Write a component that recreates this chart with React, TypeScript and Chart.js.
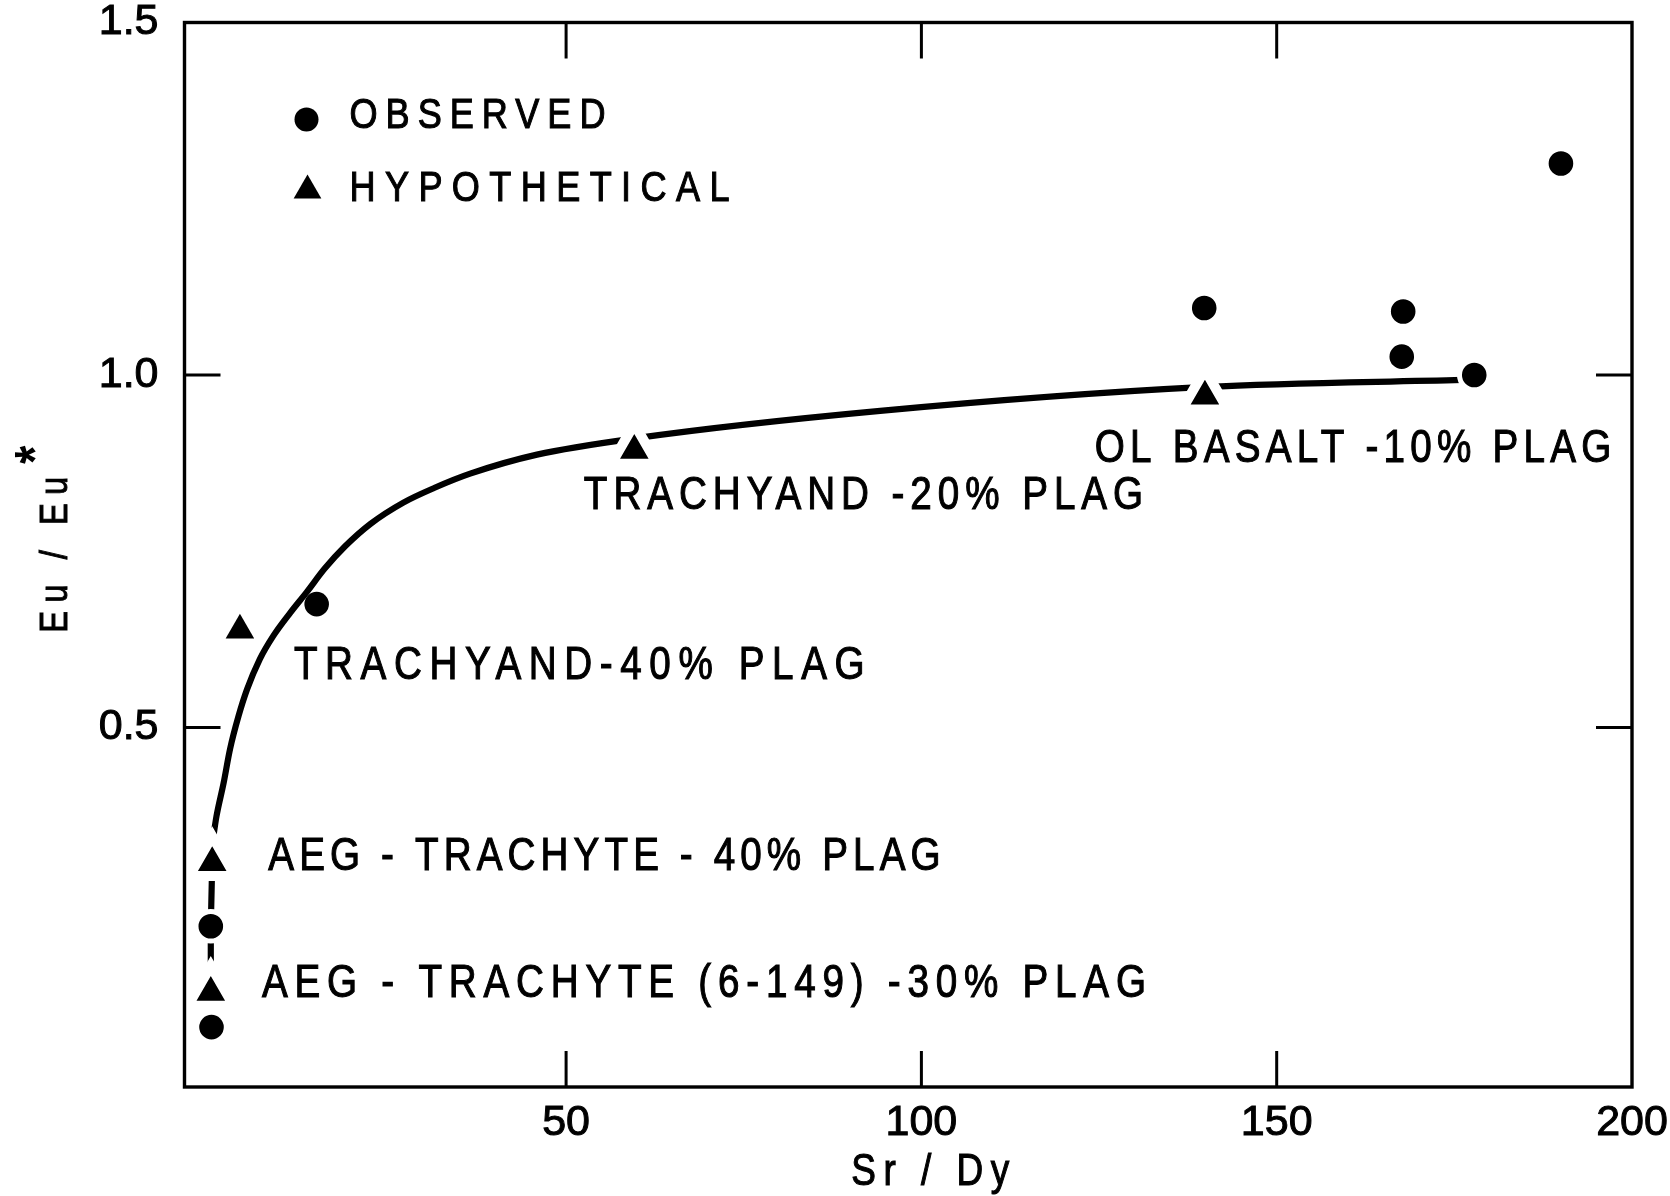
import React, { useEffect, useRef } from 'react';
import { Chart, registerables } from 'chart.js';

Chart.register(...registerables);

// Observed samples: Sr/Dy against Eu/Eu*
const observedSrDy = [190.0, 139.8, 167.8, 167.6, 177.8, 14.9, 0.0, 0.1];
const observedEuRatio = [1.3, 1.095, 1.09, 1.026, 1.0, 0.675, 0.218, 0.075];

// Hypothetical liquids after plagioclase removal
const hypotheticalSrDy = [139.9, 59.6, 4.1, 0.2, 0.0];
const hypotheticalEuRatio = [0.97, 0.893, 0.638, 0.308, 0.124];

// Smooth trend drawn through the model liquids
const trendSrDy = [0.37, 0.8, 1.8, 2.7, 3.9, 5.1, 6.9, 8.8, 11.2, 13.5, 16.0, 18.9, 22.5, 27.1, 31.5, 36.5, 45.9, 59.6, 94.2, 140.0, 176.1];
const trendEuRatio = [0.346, 0.374, 0.421, 0.469, 0.516, 0.554, 0.597, 0.63, 0.663, 0.692, 0.725, 0.757, 0.789, 0.819, 0.84, 0.86, 0.887, 0.91, 0.949, 0.983, 0.993];

// Short link between the aegirine-trachyte points
const linkSrDy = [0.2, 0.0, 0.0];
const linkEuRatio = [0.308, 0.218, 0.124];

// Axis ticks
const xTickValues = [50, 100, 150, 200];
const yTickValues = [0.5, 1.0, 1.5];

// Model labels (left edge, right edge, vertical centre in data units)
const noteTexts = [
  'TRACHYAND -20% PLAG',
  'OL BASALT -10% PLAG',
  'TRACHYAND-40% PLAG',
  'AEG - TRACHYTE - 40% PLAG',
  'AEG - TRACHYTE (6-149) -30% PLAG',
];
const noteStartSrDy = [52.5, 124.4, 11.7, 8.1, 7.2];
const noteEndSrDy = [131.2, 197.1, 92.0, 102.7, 131.6];
const noteEuRatio = [0.834, 0.9, 0.592, 0.321, 0.141];

const FONT = '"Liberation Sans", "DejaVu Sans", sans-serif';
const CAP = 0.72;
const INK = '#000';
const SQUEEZE = 0.84; // lettering is narrower than the installed sans

const toPoints = (xs: number[], ys: number[]) => xs.map((x, i) => ({ x, y: ys[i] }));

// markers beside the steep part of the trend touch it; the others get a white gap
const hasGap = (c: any) => !(c.raw && c.raw.x > 1 && c.raw.x < 30);

function drawSpaced(
  ctx: CanvasRenderingContext2D,
  text: string,
  x: number,
  yCenter: number,
  size: number,
  width: number
) {
  ctx.save();
  ctx.translate(x, yCenter + (CAP * size) / 2);
  ctx.scale(SQUEEZE, 1);
  ctx.font = `${size}px ${FONT}`;
  (ctx as any).letterSpacing = '0px';
  const w0 = ctx.measureText(text).width;
  const n = Array.from(text).length;
  const ls = n > 1 ? (width / SQUEEZE - w0) / (n - 1) : 0;
  (ctx as any).letterSpacing = `${ls}px`;
  ctx.fillStyle = INK;
  ctx.strokeStyle = INK;
  ctx.lineWidth = 1.1;
  ctx.textAlign = 'left';
  ctx.textBaseline = 'alphabetic';
  ctx.fillText(text, 0, 0);
  ctx.strokeText(text, 0, 0);
  ctx.restore();
}

function triangle(ctx: CanvasRenderingContext2D, cx: number, cy: number, r: number) {
  ctx.beginPath();
  for (let k = 0; k < 3; k++) {
    const a = (k * 2 * Math.PI) / 3;
    const px = cx + Math.sin(a) * r;
    const py = cy - Math.cos(a) * r;
    if (k === 0) ctx.moveTo(px, py);
    else ctx.lineTo(px, py);
  }
  ctx.closePath();
  ctx.fill();
}

const frameAndNotes = {
  id: 'frameAndNotes',
  afterDatasetsDraw(chart: any) {
    const { ctx, chartArea: a, scales } = chart;
    const xs = scales.x;
    const ys = scales.y;
    const tickLen = 36;
    ctx.save();
    ctx.strokeStyle = INK;
    ctx.lineWidth = 3.4;
    ctx.lineJoin = 'miter';
    ctx.strokeRect(a.left, a.top, a.right - a.left, a.bottom - a.top);
    ctx.lineWidth = 3;
    ctx.beginPath();
    xs.ticks.forEach((t: any) => {
      if (t.value <= xs.min || t.value >= xs.max) return;
      const px = xs.getPixelForValue(t.value);
      ctx.moveTo(px, a.bottom);
      ctx.lineTo(px, a.bottom - tickLen);
      ctx.moveTo(px, a.top);
      ctx.lineTo(px, a.top + tickLen);
    });
    ys.ticks.forEach((t: any) => {
      if (t.value <= ys.min || t.value >= ys.max) return;
      const py = ys.getPixelForValue(t.value);
      ctx.moveTo(a.left, py);
      ctx.lineTo(a.left + tickLen, py);
      ctx.moveTo(a.right, py);
      ctx.lineTo(a.right - tickLen, py);
    });
    ctx.stroke();
    ctx.restore();
  },
  afterDraw(chart: any) {
    const { ctx, chartArea: a, scales } = chart;
    const xs = scales.x;
    const ys = scales.y;

    // model labels
    noteTexts.forEach((text, i) => {
      const x0 = xs.getPixelForValue(noteStartSrDy[i]);
      const x1 = xs.getPixelForValue(noteEndSrDy[i]);
      const yc = ys.getPixelForValue(noteEuRatio[i]);
      drawSpaced(ctx, text, x0, yc, 46, x1 - x0);
    });

    // key
    ctx.save();
    ctx.fillStyle = INK;
    ctx.beginPath();
    ctx.arc(a.left + 122, a.top + 97, 12, 0, Math.PI * 2);
    ctx.fill();
    triangle(ctx, a.left + 123, a.top + 168, 16);
    ctx.restore();
    drawSpaced(ctx, chart.data.datasets[0].label, a.left + 165, a.top + 90.5, 43, 256);
    drawSpaced(ctx, chart.data.datasets[1].label, a.left + 165, a.top + 163, 43, 380);

    // x axis title
    const cx = (a.left + a.right) / 2 + 22;
    drawSpaced(ctx, 'Sr / Dy', cx - 79, chart.height - 27, 44, 158);

    // y axis title, rotated, with superscript asterisk
    ctx.save();
    const yMid = (a.top + a.bottom) / 2;
    ctx.translate(67, yMid + 78);
    ctx.rotate(-Math.PI / 2);
    ctx.scale(SQUEEZE, 1);
    ctx.fillStyle = INK;
    ctx.strokeStyle = INK;
    ctx.lineWidth = 1;
    ctx.font = `39px ${FONT}`;
    (ctx as any).letterSpacing = '0px';
    const label = 'Eu / Eu';
    const w0 = ctx.measureText(label).width;
    (ctx as any).letterSpacing = `${(156 / SQUEEZE - w0) / 6}px`;
    ctx.textAlign = 'left';
    ctx.textBaseline = 'alphabetic';
    ctx.fillText(label, 0, 0);
    ctx.strokeText(label, 0, 0);
    (ctx as any).letterSpacing = '0px';
    ctx.font = `bold 56px ${FONT}`;
    ctx.textAlign = 'center';
    ctx.fillText('*', 178 / SQUEEZE, -14);
    ctx.restore();
  },
};

export default function App() {
  const ref = useRef<HTMLCanvasElement>(null);

  useEffect(() => {
    const canvas = ref.current;
    if (!canvas) return;
    const tickFont = { family: FONT, size: 43 };

    const chart = new Chart(canvas, {
      type: 'scatter',
      data: {
        datasets: [
          {
            label: 'OBSERVED',
            data: toPoints(observedSrDy, observedEuRatio),
            pointStyle: 'circle',
            pointBackgroundColor: INK,
            pointBorderColor: '#fff',
            pointRadius: (c: any) => (hasGap(c) ? 14.8 : 12.3),
            pointBorderWidth: (c: any) => (hasGap(c) ? 5 : 0),
            order: 0,
          },
          {
            label: 'HYPOTHETICAL',
            data: toPoints(hypotheticalSrDy, hypotheticalEuRatio),
            pointStyle: 'triangle',
            pointBackgroundColor: INK,
            pointBorderColor: '#fff',
            pointRadius: (c: any) => (hasGap(c) ? 26.5 : 16.5),
            pointBorderWidth: (c: any) => (hasGap(c) ? 10 : 0),
            order: 1,
          },
          {
            label: 'link',
            data: toPoints(linkSrDy, linkEuRatio),
            showLine: true,
            borderColor: INK,
            borderWidth: 6.2,
            tension: 0,
            pointRadius: 0,
            borderCapStyle: 'butt',
            order: 2,
          },
          {
            label: 'trend',
            data: toPoints(trendSrDy, trendEuRatio),
            showLine: true,
            borderColor: INK,
            borderWidth: 6.2,
            cubicInterpolationMode: 'monotone',
            pointRadius: 0,
            borderCapStyle: 'round',
            order: 3,
          },
        ],
      } as any,
      options: {
        animation: false,
        responsive: false,
        events: [],
        layout: { autoPadding: false, padding: { top: 22.5, right: 38, left: 0, bottom: 0 } },
        plugins: {
          legend: { display: false },
          tooltip: { enabled: false },
        },
        scales: {
          x: {
            type: 'linear',
            min: -3.7,
            max: 200,
            border: { display: false },
            grid: { display: false },
            ticks: {
              font: tickFont,
              color: INK,
              textStrokeColor: INK,
              textStrokeWidth: 1,
              padding: 2,
              autoSkip: false,
              maxRotation: 0,
              callback: (v: any) => String(v),
            },
            afterBuildTicks: (s: any) => {
              s.ticks = xTickValues.map((value) => ({ value }));
            },
            afterFit: (s: any) => {
              s.height = 109;
              s.paddingLeft = 0;
              s.paddingRight = 0;
            },
          },
          y: {
            type: 'linear',
            min: -0.01,
            max: 1.5,
            border: { display: false },
            grid: { display: false },
            ticks: {
              font: tickFont,
              color: INK,
              textStrokeColor: INK,
              textStrokeWidth: 1,
              padding: 18,
              autoSkip: false,
              callback: (v: any) => Number(v).toFixed(1),
            },
            afterBuildTicks: (s: any) => {
              s.ticks = yTickValues.map((value) => ({ value }));
            },
            afterFit: (s: any) => {
              s.width = 184.5;
              s.paddingTop = 0;
              s.paddingBottom = 0;
            },
          },
        },
      } as any,
      plugins: [frameAndNotes],
    });

    return () => chart.destroy();
  }, []);

  return (
    <div style={{ position: 'fixed', left: 0, top: 0, width: 1670, height: 1196, background: '#fff' }}>
      <canvas ref={ref} width={1670} height={1196} style={{ display: 'block' }} />
    </div>
  );
}
